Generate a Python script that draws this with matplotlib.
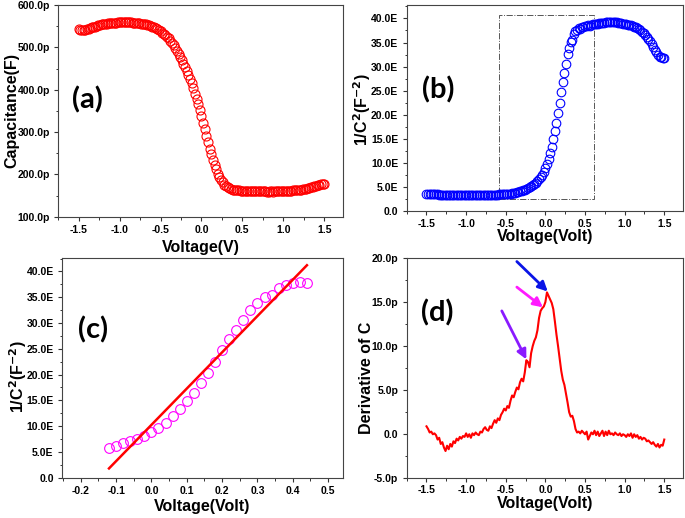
import numpy as np
import matplotlib
matplotlib.use('Agg')
import matplotlib.pyplot as plt
from matplotlib.ticker import MultipleLocator, AutoMinorLocator, FuncFormatter
from matplotlib.patches import Rectangle

plt.rcParams['font.family'] = ['Liberation Sans', 'DejaVu Sans']
plt.rcParams['font.weight'] = 'bold'

# voltage sweep, 0.02 V step
voltage = np.round(np.arange(151) * 0.02 - 1.5, 2)

# (a) capacitance in pF
cap_a = [
    543, 541, 540, 541, 542, 543, 544, 545, 547, 548,
    549, 551, 552, 553, 554, 555, 556, 556, 557, 557,
    558, 558, 558, 558, 559, 559, 559, 559, 559, 559,
    559, 559, 559, 558, 558, 558, 557, 557, 556, 555,
    555, 554, 553, 552, 550, 549, 547, 545, 543, 541,
    538, 535, 532, 529, 525, 521, 516, 511, 505, 499,
    492, 485, 477, 469, 461, 453, 444, 434, 425, 416,
    404, 390, 377, 366, 352, 337, 322, 307, 290, 276,
    260, 247, 235, 223, 212, 202, 194, 187, 181, 176,
    172, 169, 168, 166, 164, 163, 162, 162, 162, 161,
    161, 161, 161, 161, 160, 160, 160, 160, 160, 160,
    160, 160, 160, 160, 160, 159, 159, 160, 160, 159,
    160, 160, 160, 160, 160, 160, 161, 161, 161, 161,
    161, 162, 162, 162, 163, 163, 164, 165, 165, 166,
    167, 168, 170, 171, 172, 173, 175, 176, 177, 178,
    178,
]

# (b) 1/C^2 in units of E (1e18 F^-2)
inv_c2 = [
    3.39, 3.42, 3.43, 3.42, 3.40, 3.39, 3.38, 3.37, 3.34, 3.33,
    3.32, 3.30, 3.28, 3.27, 3.26, 3.25, 3.24, 3.24, 3.22, 3.22,
    3.21, 3.21, 3.21, 3.21, 3.20, 3.20, 3.20, 3.20, 3.20, 3.20,
    3.20, 3.20, 3.20, 3.21, 3.21, 3.21, 3.22, 3.22, 3.23, 3.25,
    3.25, 3.27, 3.28, 3.30, 3.32, 3.34, 3.37, 3.39, 3.42, 3.45,
    3.45, 3.50, 3.53, 3.57, 3.63, 3.68, 3.76, 3.83, 3.93, 4.02,
    4.13, 4.25, 4.40, 4.55, 4.70, 4.87, 5.07, 5.31, 5.50, 5.69,
    6.14, 6.66, 7.10, 7.50, 8.08, 8.92, 9.70, 10.70, 12.00, 13.25,
    14.90, 16.50, 18.30, 20.35, 22.50, 24.75, 26.80, 28.60, 30.60, 32.60,
    33.90, 35.10, 35.50, 36.70, 37.35, 37.70, 38.00, 37.80, 38.20, 38.30,
    38.40, 38.50, 38.60, 38.50, 38.70, 38.80, 38.80, 38.90, 38.90, 39.00,
    39.00, 39.10, 39.10, 39.20, 39.20, 39.30, 39.30, 39.20, 39.20, 39.30,
    39.20, 39.10, 39.00, 39.00, 38.90, 38.90, 38.80, 38.70, 38.60, 38.60,
    38.40, 38.30, 38.20, 38.00, 37.80, 37.50, 37.20, 36.90, 36.50, 36.10,
    35.70, 35.30, 34.70, 34.10, 33.50, 33.00, 32.50, 32.00, 31.90, 31.80,
    31.80,
]

# (c) fitted region of 1/C^2 and the linear fit end points
fit_lo, fit_hi = -0.12, 0.44
fit_x = [-0.12, 0.44]
fit_y = [1.8, 41.2]

# (d) derivative of C in pF
deriv = [
    0.9, 0.6, 0.2, 0.3, 0.0, 0.1, -0.1, -0.6, -0.4, -1.1,
    -0.9, -1.5, -1.9, -1.3, -1.7, -1.1, -1.4, -0.8, -1.0, -0.5,
    -0.7, -0.3, -0.5, -0.2, -0.3, 0.1, -0.3, 0.0, -0.4, 0.1,
    -0.1, 0.2, 0.0, -0.1, 0.3, 0.2, 0.6, 0.8, 0.5, 0.4,
    0.9, 0.7, 1.2, 1.6, 1.3, 1.8, 1.6, 2.2, 2.5, 2.9,
    2.7, 3.2, 3.0, 3.8, 4.4, 4.2, 4.8, 5.3, 5.1, 5.9,
    6.3, 6.0, 7.0, 8.4, 8.2, 7.6, 9.2, 10.0, 10.6, 11.0,
    11.8, 13.2, 14.0, 14.3, 14.5, 15.0, 16.1, 15.7, 15.3, 14.9,
    14.2, 12.8, 11.3, 10.0, 8.6, 7.2, 6.2, 5.6, 4.6, 3.6,
    2.5, 2.0, 2.1, 1.5, 0.6, 0.2, 0.3, 0.1, 0.4, 0.2,
    0.0, 0.3, -0.6, -0.2, 0.2, 0.0, 0.4, -0.1, 0.3, -0.2,
    0.1, 0.4, -0.2, 0.3, -0.1, 0.4, 0.0, 0.1, -0.1, 0.2,
    0.0, -0.1, 0.1, -0.2, 0.0, -0.1, -0.3, 0.0, -0.2, 0.1,
    -0.4, 0.0, -0.3, -0.1, -0.5, -0.3, -0.6, -0.4, -0.5, -0.8,
    -0.7, -0.9, -1.1, -0.9, -1.2, -1.4, -1.1, -1.5, -1.2, -1.3,
    -0.6,
]

# arrows in (d): (start, tip, colour)
arrows = [
    ((-0.36, 19.6), (0.03, 16.2), '#0a14e6'),
    ((-0.36, 16.7), (-0.03, 14.4), '#ff1aff'),
    ((-0.55, 14.0), (-0.24, 8.5), '#8a1aff'),
]

assert len(cap_a) == len(inv_c2) == len(deriv) == len(voltage)

tick_font = dict(family=['Liberation Sans', 'DejaVu Sans'], weight='bold', size=7.5)
label_font = dict(family=['Liberation Sans', 'DejaVu Sans'], weight='bold', size=11.5)
panel_font = dict(family=['Lato', 'DejaVu Sans'], weight='bold', size=21)


def fmt(suffix):
    def f(v, pos):
        if abs(v) < 1e-9:
            return '0.0'
        return '%.1f%s' % (v, suffix)
    return FuncFormatter(f)


def style(ax, xpad=3):
    for s in ax.spines.values():
        s.set_color('#444444')
        s.set_linewidth(0.8)
    ax.tick_params(which='major', direction='out', length=3, width=0.8, color='#333333', pad=3)
    ax.tick_params(axis='x', which='major', pad=xpad)
    ax.tick_params(which='minor', direction='out', length=1.8, width=0.7, color='#333333')
    ax.xaxis.set_minor_locator(AutoMinorLocator(2))
    ax.yaxis.set_minor_locator(AutoMinorLocator(2))
    for lab in ax.get_xticklabels() + ax.get_yticklabels():
        lab.set_fontproperties(matplotlib.font_manager.FontProperties(**tick_font))


fig = plt.figure(figsize=(6.85, 5.18), dpi=100)
ax_a = fig.add_axes([0.0851, 0.5817, 0.4156, 0.4086])
ax_b = fig.add_axes([0.5937, 0.5933, 0.4038, 0.3970])
ax_c = fig.add_axes([0.0905, 0.0778, 0.4102, 0.4241])
ax_d = fig.add_axes([0.5937, 0.0766, 0.4038, 0.4253])

# (a)
ax_a.plot(voltage, cap_a, 'o', mfc='none', mec='red', ms=6.5, mew=0.8)
ax_a.set_xlim(-1.75, 1.73)
ax_a.set_ylim(100, 600)
ax_a.xaxis.set_major_locator(MultipleLocator(0.5))
ax_a.yaxis.set_major_locator(MultipleLocator(100))
ax_a.xaxis.set_major_formatter(FuncFormatter(lambda v, p: '%.1f' % v))
ax_a.yaxis.set_major_formatter(fmt('p'))
ax_a.set_xlabel('Voltage(V)', **label_font)
ax_a.set_ylabel('Capacitance(F)', **label_font)
ax_a.xaxis.set_label_coords(0.5, -0.11)
ax_a.yaxis.set_label_coords(-0.138, 0.5)
ax_a.text(-1.39, 375, '(a)', ha='center', va='center', **panel_font)
style(ax_a)

# (b)
ax_b.plot(voltage, inv_c2, 'o', mfc='none', mec='blue', ms=6.2, mew=0.8)
ax_b.add_patch(Rectangle((-0.58, 2.4), 1.19, 38.3, fill=False, ls='-.',
                         lw=0.7, ec='#555555'))
ax_b.set_xlim(-1.75, 1.74)
ax_b.set_ylim(0, 42.8)
ax_b.xaxis.set_major_locator(MultipleLocator(0.5))
ax_b.yaxis.set_major_locator(MultipleLocator(5))
ax_b.xaxis.set_major_formatter(FuncFormatter(lambda v, p: '%.1f' % v))
ax_b.yaxis.set_major_formatter(fmt('E'))
ax_b.set_xlabel('Voltage(Volt)', **label_font)
ax_b.set_ylabel('1/C$^{\\mathbf{2}}$(F$^{\\mathbf{-2}}$)', **label_font)
ax_b.xaxis.set_label_coords(0.5, -0.09)
ax_b.yaxis.set_label_coords(-0.122, 0.49)
ax_b.text(-1.35, 25.1, '(b)', ha='center', va='center', **panel_font)
style(ax_b)

# (c)
sel = (voltage >= fit_lo - 1e-9) & (voltage <= fit_hi + 1e-9)
ax_c.plot(voltage[sel], np.array(inv_c2)[sel], 'o', mfc='none', mec='#ff00ff',
          ms=7, mew=0.8)
ax_c.plot(fit_x, fit_y, '-', color='red', lw=1.8)
ax_c.set_xlim(-0.253, 0.542)
ax_c.set_ylim(0, 42.6)
ax_c.xaxis.set_major_locator(MultipleLocator(0.1))
ax_c.yaxis.set_major_locator(MultipleLocator(5))
ax_c.xaxis.set_major_formatter(FuncFormatter(lambda v, p: '%.1f' % (0 if abs(v) < 1e-9 else v)))
ax_c.yaxis.set_major_formatter(fmt('E'))
ax_c.set_xlabel('Voltage(Volt)', **label_font)
ax_c.set_ylabel('1/C$^{\\mathbf{2}}$(F$^{\\mathbf{-2}}$)', **label_font)
ax_c.xaxis.set_label_coords(0.5, -0.095)
ax_c.yaxis.set_label_coords(-0.117, 0.46)
ax_c.text(-0.164, 28.6, '(c)', ha='center', va='center', **panel_font)
style(ax_c)

# (d)
ax_d.plot(voltage, deriv, '-', color='red', lw=1.5)
for start, tip, col in arrows:
    ax_d.annotate('', xy=tip, xytext=start,
                  arrowprops=dict(arrowstyle='-|>', color=col, lw=2,
                                  mutation_scale=14, shrinkA=0, shrinkB=0))
ax_d.set_xlim(-1.75, 1.74)
ax_d.set_ylim(-5, 20)
ax_d.xaxis.set_major_locator(MultipleLocator(0.5))
ax_d.yaxis.set_major_locator(MultipleLocator(5))
ax_d.xaxis.set_major_formatter(FuncFormatter(lambda v, p: '%.1f' % v))
ax_d.yaxis.set_major_formatter(fmt('p'))
ax_d.set_xlabel('Voltage(Volt)', **label_font)
ax_d.set_ylabel('Derivative of C', **label_font)
ax_d.xaxis.set_label_coords(0.5, -0.078)
ax_d.yaxis.set_label_coords(-0.118, 0.456)
ax_d.text(-1.37, 13.75, '(d)', ha='center', va='center', **panel_font)
style(ax_d, xpad=1.5)

fig.savefig('out.png', dpi=100)
